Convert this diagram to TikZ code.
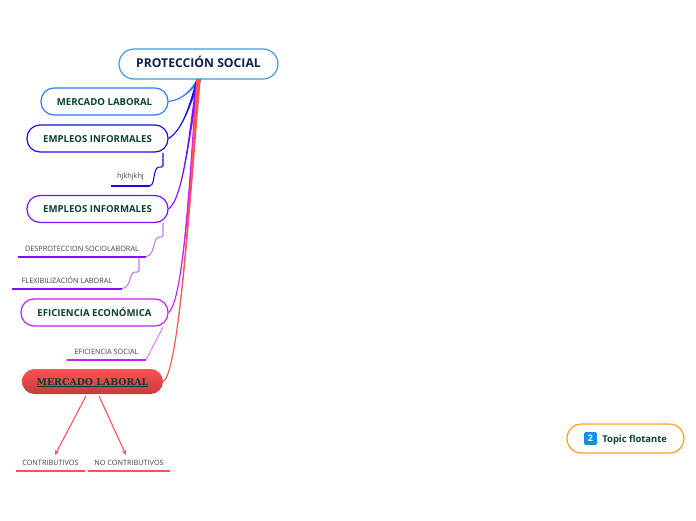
\documentclass[tikz,border=0pt]{standalone}
\usepackage{xcolor}
\usepackage{fontspec}
\setmainfont{Open Sans}
\newfontfamily\slabfont{DejaVu Serif}
\usetikzlibrary{arrows.meta, positioning, calc}

\definecolor{rootblue}{HTML}{3E9BE0}
\definecolor{rootink}{HTML}{0E2150}
\definecolor{mainink}{HTML}{0B4033}
\definecolor{marketblue}{HTML}{2B7BFF}
\definecolor{jobblue}{HTML}{1A0CEB}
\definecolor{jobviolet}{HTML}{7A14FF}
\definecolor{effmagenta}{HTML}{C91CFF}
\definecolor{alarmred}{HTML}{FF5252}
\definecolor{floatorange}{HTML}{FF9F1C}
\definecolor{badgeblue}{HTML}{1590E8}

\tikzset{
  mainbox/.style={draw=#1, line width=1.2pt, rounded corners=13pt, minimum height=27pt,
    inner sep=0pt, fill=white, text=mainink, text height=7.5pt, text depth=0pt,
    font=\bfseries\fontsize{9.6}{11}\selectfont},
  leaf/.style={inner xsep=0pt, inner ysep=5pt, anchor=south, text=black!75,
    font=\fontsize{7.3}{8}\selectfont,
    append after command={\pgfextra{\draw[#1, line width=2pt]
      (\tikzlastnode.south west) -- (\tikzlastnode.south east);}}},
  elbow/.style={#1, line width=1.1pt, rounded corners=1.5pt},
}
\newcommand{\limb}[4]{\filldraw[#1, line width=1.1pt] ([xshift=-1.6]root.south) .. controls #3 and #4 .. (#2.east)
  .. controls #4 and #3 .. ([xshift=1.6]root.south) -- cycle;}

\begin{document}
\begin{tikzpicture}[x=1pt, y=-1pt]
  \useasboundingbox (0,0) rectangle (696,520);

  \node[mainbox=rootblue, rounded corners=15pt, minimum width=159pt, minimum height=30pt, text=rootink,
    font=\bfseries\fontsize{12.2}{13}\selectfont] (root) at (198.5,64) {PROTECCIÓN SOCIAL};
  \node[mainbox=marketblue, minimum width=127pt] (market) at (104.5,101.5) {MERCADO LABORAL};
  \node[mainbox=jobblue, minimum width=141pt] (jobsA) at (97.5,138.5) {EMPLEOS INFORMALES};
  \node[mainbox=jobviolet, minimum width=141pt] (jobsB) at (97.5,209) {EMPLEOS INFORMALES};
  \node[mainbox=effmagenta, minimum width=147pt] (effic) at (94.5,312.5) {EFICIENCIA ECONÓMICA};
  \node[rounded corners=12.5pt, minimum width=141pt, minimum height=25pt, inner sep=0pt,
    top color=alarmred, bottom color=alarmred!75!black, text=mainink, text height=7pt, text depth=0pt,
    font=\slabfont\bfseries\fontsize{9.4}{10}\selectfont] (labor) at (92.5,381.5) {\underline{MERCADO LABORAL}};

  % thin labels
  \node[leaf=jobblue, minimum width=39pt] (hjk) at (130.5,185.5) {hjkhjkhj\hspace{4pt}};
  \node[leaf=jobviolet, minimum width=128pt] (desprot) at (82,256.5) {DESPROTECCION SOCIOLABORAL};
  \node[leaf=jobviolet, minimum width=110pt] (flexi) at (67,288.5) {FLEXIBILIZACIÓN LABORAL\hspace{6pt}};
  \node[leaf=effmagenta, minimum width=79pt] (social) at (106.5,359.5) {EFICIENCIA SOCIAL};
  \node[leaf=alarmred, minimum width=69pt] (contrib) at (50.5,470.5) {CONTRIBUTIVOS};
  \node[leaf=alarmred, minimum width=82pt] (nocontrib) at (129,470.5) {NO CONTRIBUTIVOS};

  % floating topic
  \node[mainbox=floatorange, rounded corners=14.5pt, minimum width=117pt, minimum height=29pt] (floating) at (625.5,438.5) {};
  \node[fill=badgeblue, rounded corners=1.5pt, minimum size=13pt, inner sep=0pt, text=white,
    font=\bfseries\fontsize{9}{10}\selectfont] (badge) at (590.5,438.5) {2};
  \node[right=5pt of badge, inner sep=0pt, text=mainink, text height=7.5pt, text depth=0pt,
    font=\bfseries\fontsize{9.4}{11}\selectfont] (floattext) {Topic flotante};

  % limbs out of the root
  \limb{marketblue}{market}{(192,90)}{(182,100)}
  \limb{jobblue}{jobsA}{(191,100)}{(184,129)}
  \limb{jobviolet}{jobsB}{(190,125)}{(184,198)}
  \limb{effmagenta}{effic}{(190,170)}{(184,300)}
  \limb{alarmred}{labor}{(192,170)}{(180,372)}

  % elbows
  \coordinate (jobsAfoot) at (163,153);
  \coordinate (jobsBfoot) at (163,223);
  \coordinate (desprotfoot) at (139,258);
  \coordinate (efficfoot) at (163,327);
  \draw[elbow=jobblue] (jobsAfoot) -- (163,167) -- (160,167) .. controls (153,168) and (155,185) .. (hjk.south east);
  \draw[elbow=jobviolet!55] (jobsBfoot) -- (163,237) -- (160,237) .. controls (153,238) and (155,256) .. (desprot.south east);
  \draw[elbow=jobviolet!55] (desprotfoot) -- (139,272) -- (136,272) .. controls (129,273) and (131,288) .. (flexi.south east);
  \draw[effmagenta!55, line width=1.1pt] (efficfoot) -- (social.south east);

  % red arrows
  \coordinate (laborA) at (86,396);
  \coordinate (laborB) at (99,396);
  \coordinate (contribtop) at (55,455);
  \coordinate (nocontribtop) at (126,455);
  \draw[alarmred, line width=1.1pt, -{Stealth[length=5pt, width=4.5pt]}] (laborA) -- (contribtop);
  \draw[alarmred, line width=1.1pt, -{Stealth[length=5pt, width=4.5pt]}] (laborB) -- (nocontribtop);
\end{tikzpicture}
\end{document}
